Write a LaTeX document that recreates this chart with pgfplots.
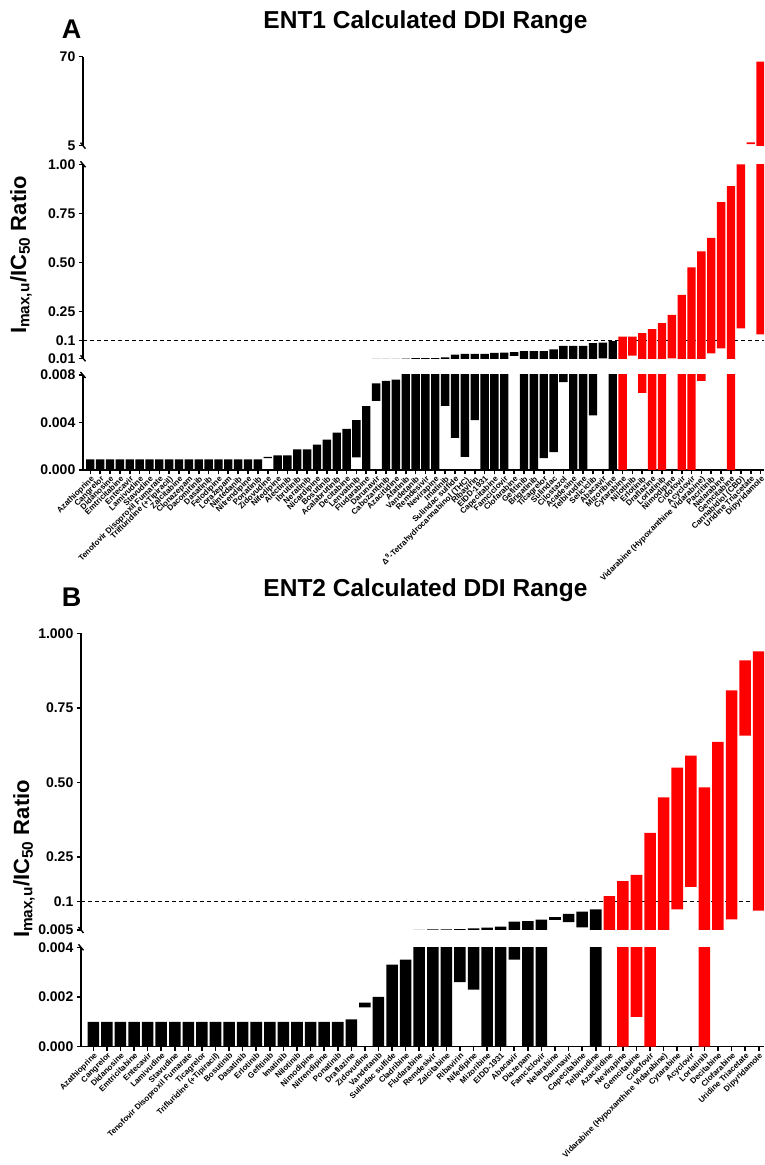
\documentclass[border=0pt]{standalone}
\usepackage{fontspec}
\setmainfont{Liberation Sans}
\usepackage{pgfplots}
\usepackage{pgfplotstable}
\pgfplotsset{compat=1.18}

% Panel A: x = drug index, lo/hi = calculated range, r = 1 for red bars
\pgfplotstableread{
x lo hi r
1 0 0.0009 0
2 0 0.0009 0
3 0 0.0009 0
4 0 0.0009 0
5 0 0.0009 0
6 0 0.0009 0
7 0 0.0009 0
8 0 0.0009 0
9 0 0.0009 0
10 0 0.0009 0
11 0 0.0009 0
12 0 0.0009 0
13 0 0.0009 0
14 0 0.0009 0
15 0 0.0009 0
16 0 0.0009 0
17 0 0.0009 0
18 0 0.0009 0
19 0.00100 0.00111 0
20 0 0.00124 0
21 0 0.00124 0
22 0 0.00174 0
23 0 0.00174 0
24 0 0.00213 0
25 0 0.00256 0
26 0 0.00315 0
27 0 0.00346 0
28 0.00107 0.00419 0
29 0 0.00537 0
30 0.00581 0.0073 0
31 0 0.0075 0
32 0 0.0076 0
33 0 0.0085 0
34 0 0.0106 0
35 0 0.0106 0
36 0 0.0107 0
37 0.0054 0.015 0
38 0.0027 0.029 0
39 0.0011 0.032 0
40 0.0042 0.032 0
41 0 0.032 0
42 0 0.037 0
43 0 0.039 0
44 0.022 0.042 0
45 0 0.047 0
46 0 0.047 0
47 0.001 0.047 0
48 0.0015 0.056 0
49 0.0074 0.073 0
50 0 0.073 0
51 0 0.073 0
52 0.0046 0.088 0
53 0.0102 0.090 0
54 0 0.097 0
55 0 0.120 1
56 0.024 0.120 1
57 0.0065 0.139 1
58 0 0.159 1
59 0 0.190 1
60 0.0095 0.231 1
61 0 0.333 1
62 0 0.474 1
63 0.0075 0.556 1
64 0.035 0.625 1
65 0.060 0.807 1
66 0 0.889 1
67 0.163 1.0 1
68 6.2 7.4 1
69 0.132 66.4 1
}\tabA

% Panel B
\pgfplotstableread{
x lo hi r
1 0 0.001 0
2 0 0.001 0
3 0 0.001 0
4 0 0.001 0
5 0 0.001 0
6 0 0.001 0
7 0 0.001 0
8 0 0.001 0
9 0 0.001 0
10 0 0.001 0
11 0 0.001 0
12 0 0.001 0
13 0 0.001 0
14 0 0.001 0
15 0 0.001 0
16 0 0.001 0
17 0 0.001 0
18 0 0.001 0
19 0 0.001 0
20 0 0.0011 0
21 0.00158 0.00177 0
22 0 0.0020 0
23 0 0.0033 0
24 0 0.0035 0
25 0 0.0052 0
26 0 0.0070 0
27 0 0.0070 0
28 0.0026 0.0080 0
29 0.0023 0.0106 0
30 0 0.0128 0
31 0 0.0162 0
32 0.0035 0.033 0
33 0 0.035 0
34 0 0.040 0
35 0.039 0.048 0
36 0.031 0.059 0
37 0.014 0.067 0
38 0 0.074 0
39 0.0045 0.119 1
40 0 0.169 1
41 0.0012 0.190 1
42 0 0.331 1
43 0.0045 0.450 1
44 0.074 0.550 1
45 0.150 0.590 1
46 0 0.484 1
47 0.0045 0.636 1
48 0.041 0.809 1
49 0.657 0.910 1
50 0.070 0.940 1
}\tabB

\definecolor{barred}{RGB}{255,0,0}

\pgfplotsset{
  seg/.style={
    scale only axis,
    axis y line*=left,
    axis line style={line width=1.6pt,-},
    ytick style={line width=1.4pt,black},
    xtick style={line width=1.6pt,black},
    major tick length=4.5pt,
    tick align=outside,
    scaled y ticks=false,
    yticklabel style={font=\bfseries\fontsize{14}{14}\selectfont, inner sep=3pt},
    ybar stacked, bar width=0.85,
  },
  nox/.style={axis x line=none, xtick=\empty},
  xlab/.style={
    axis x line*=bottom,
    xticklabel style={rotate=45, anchor=north east, inner sep=0.5pt,
      font=\bfseries\fontsize{8}{8}\selectfont},
  },
  segA/.style={seg, width=681pt, xmin=0.259, xmax=69.35},
  segB/.style={seg, width=683pt, xmin=0.094, xmax=50.39},
}

% #1 table, #2 display cap (only limits drawing far outside the segment)
\newcommand\bars[2]{%
  \addplot[fill=none, draw=none, y filter/.expression={min(y,#2)}] table[x=x, y=lo] {#1};
  \addplot[fill=black, draw=none, y filter/.expression={min(y,#2)}] table[x=x, y expr=(\thisrow{hi}-\thisrow{lo})*(1-\thisrow{r})] {#1};
  \addplot[fill=barred, draw=none, y filter/.expression={min(y,#2)}] table[x=x, y expr=(\thisrow{hi}-\thisrow{lo})*\thisrow{r}] {#1};
}

\begin{document}
\begin{tikzpicture}[x=1pt,y=1pt]
\path[use as bounding box] (0,0) rectangle (764,1165);

% ---------------- Panel A ----------------
\node[font=\bfseries\fontsize{27}{27}\selectfont, anchor=base] at (71.5,1126) {A};
\node[font=\bfseries\fontsize{24.5}{24.5}\selectfont, anchor=base] at (425.5,1136) {ENT1 Calculated DDI Range};

\begin{axis}[segA, nox, at={(83pt,1019.3pt)}, anchor=south west, height=89pt,
  ymin=5, ymax=70, ytick={5,70}, yticklabels={5,70}]
\bars{\tabA}{200}
\end{axis}

\begin{axis}[segA, nox, at={(83pt,806.7pt)}, anchor=south west, height=194pt,
  ymin=0.01, ymax=1.0, ytick={0.01,0.1,0.25,0.5,0.75,1},
  yticklabels={0.01,0.1,0.25,0.50,0.75,1.00}]
\bars{\tabA}{2}
\draw[line width=1.6pt, dash pattern=on 4pt off 3pt] (axis cs:0.259,0.1) -- (axis cs:69.35,0.1);
\end{axis}

\begin{axis}[segA, xlab, at={(83pt,695pt)}, anchor=south west, height=95pt,
  ymin=0, ymax=0.008, ytick={0,0.004,0.008}, yticklabels={0.000,0.004,0.008},
  xtick={1,...,69},
  xticklabels={Azathioprine,Cangrelor,Didanosine,Emtricitabine,Entecavir,Lamivudine,Stavudine,Tenofovir Disoproxil Fumarate,Trifluridine (+Tipiracil),Zalcitabine,Clonazepam,Dacomitinib,Dasatinib,Felodipine,Lorazepam,Nintedanib,Nitrendipine,Ponatinib,Zidovudine,Nifedipine,Alectinib,Ibrutinib,Neratinib,Nicardipine,Bosutinib,Acalabrutinib,Decitabine,Lenvatinib,Fludarabine,Darunavir,Cabozantinib,Azacitidine,Afatinib,Vandetanib,Remdesivir,Nevirapine,Imatinib,Sulindac sulfide,{Δ\textsuperscript{9}-Tetrahydrocannabinol (THC)},Ribavirin,EIDD-1931,Capecitabine,Famciclovir,Clofarabine,Gefitinib,Brigatinib,Ticagrelor,Sulindac,Cilostazol,Acadesine,Telbivudine,Seliciclib,Abacavir,Mizoribine,Cytarabine,Nilotinib,Erlotinib,Draflazine,Lorlatinib,Nimodipine,Cidofovir,Acyclovir,Vidarabine (Hypoxanthine Vidarabine),Pacritinib,Nelarabine,Gemcitabine,Cannabidiol (CBD),Uridine Triacetate,Dipyridamole}]
\bars{\tabA}{0.02}
\end{axis}

\node[rotate=90, font=\bfseries\fontsize{22}{22}\selectfont] at (21,910) {I\textsubscript{max,u}/IC\textsubscript{50} Ratio};

% break marks A
\foreach \yy in {1019.3,1000.7,806.7,790} {
  \draw[line width=1.4pt] (80.5,\yy+3) -- (85.5,\yy-3);
}

% ---------------- Panel B ----------------
\node[font=\bfseries\fontsize{27}{27}\selectfont, anchor=base] at (71.5,558) {B};
\node[font=\bfseries\fontsize{24.5}{24.5}\selectfont, anchor=base] at (425.5,568) {ENT2 Calculated DDI Range};

\begin{axis}[segB, nox, at={(81pt,235pt)}, anchor=south west, height=296.5pt,
  ymin=0.005, ymax=1.0, ytick={0.005,0.1,0.25,0.5,0.75,1},
  yticklabels={0.005,0.1,0.25,0.50,0.75,1.000}]
\bars{\tabB}{2}
\draw[line width=1.6pt, dash pattern=on 4pt off 3pt] (axis cs:0.094,0.1) -- (axis cs:50.39,0.1);
\end{axis}

\begin{axis}[segB, xlab, at={(81pt,118.3pt)}, anchor=south west, height=99.4pt,
  ymin=0, ymax=0.004, ytick={0,0.002,0.004}, yticklabels={0.000,0.002,0.004},
  xtick={1,...,50},
  xticklabels={Azathioprine,Cangrelor,Didanosine,Emtricitabine,Entecavir,Lamivudine,Stavudine,Tenofovir Disoproxil Fumarate,Ticagrelor,Trifluridine (+Tipiracil),Bosutinib,Dasatinib,Erlotinib,Gefitinib,Imatinib,Nilotinib,Nimodipine,Nitrendipine,Ponatinib,Draflazine,Zidovudine,Vandetanib,Sulindac sulfide,Cladribine,Fludarabine,Remdesivir,Zalcitabine,Ribavirin,Nifedipine,Mizoribine,EIDD-1931,Abacavir,Diazepam,Famciclovir,Nelarabine,Darunavir,Capecitabine,Telbivudine,Azacitidine,Nevirapine,Gemcitabine,Cidofovir,Vidarabine (Hypoxanthine Vidarabine),Cytarabine,Acyclovir,Lorlatinib,Decitabine,Clofarabine,Uridine Triacetate,Dipyridamole}]
\bars{\tabB}{0.01}
\end{axis}

\node[rotate=90, font=\bfseries\fontsize{22}{22}\selectfont] at (24,306) {I\textsubscript{max,u}/IC\textsubscript{50} Ratio};

\foreach \yy in {235,217.7} {
  \draw[line width=1.4pt] (78.5,\yy+3) -- (83.5,\yy-3);
}
\end{tikzpicture}
\end{document}
